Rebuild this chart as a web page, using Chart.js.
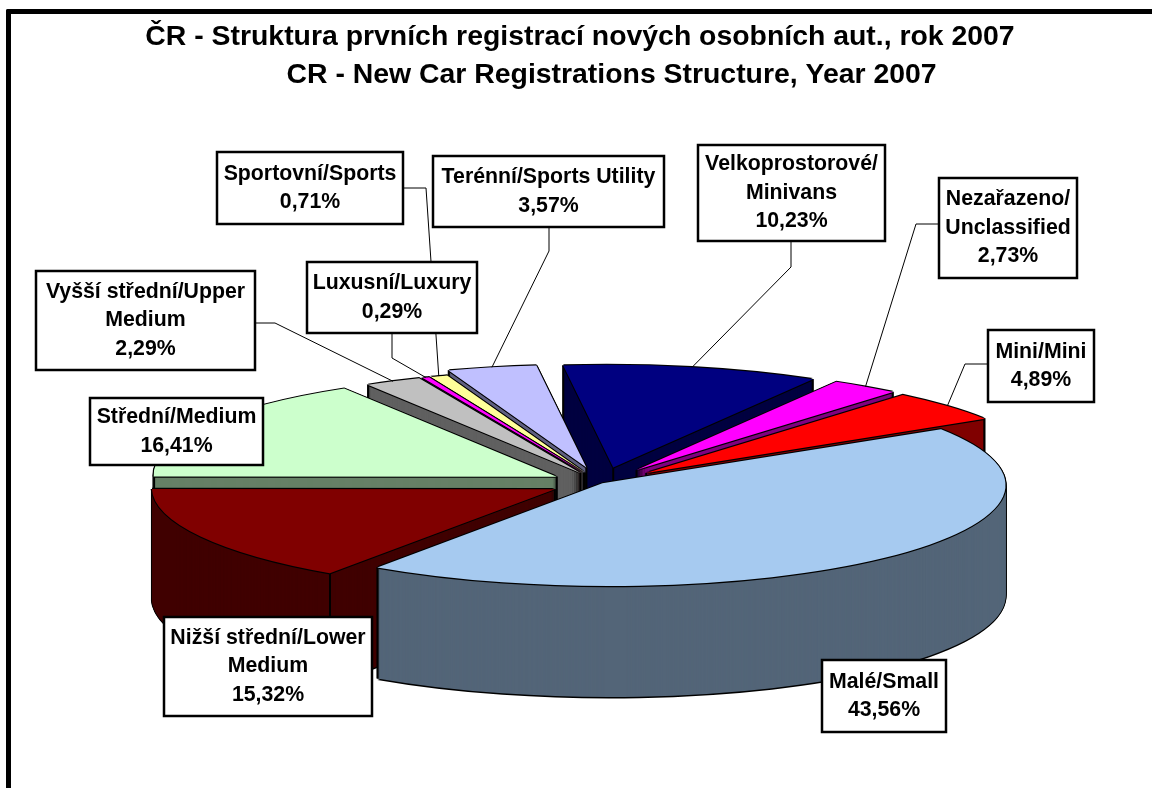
<!DOCTYPE html>
<html>
<head>
<meta charset="utf-8">
<title>ČR - Struktura prvních registrací</title>
<script src="https://cdn.jsdelivr.net/npm/chart.js@4"></script>
<style>
  html, body { margin: 0; padding: 0; background: #fff; overflow: hidden; }
  #frame { position: absolute; left: 6px; top: 9px; right: 0; bottom: 0; border-left: 5px solid #000; border-top: 5px solid #000; border-top-left-radius: 2px; }
  #chart { position: absolute; left: 0; top: 0; }
</style>
</head>
<body>
<div id="frame"></div>
<canvas id="chart" width="1152" height="788"></canvas>
<script>
// data, clockwise from 12 o'clock
const categories = [
  'Velkoprostorové/\nMinivans',
  'Nezařazeno/\nUnclassified',
  'Mini/Mini',
  'Malé/Small',
  'Nižší střední/Lower\nMedium',
  'Střední/Medium',
  'Vyšší střední/Upper\nMedium',
  'Luxusní/Luxury',
  'Sportovní/Sports',
  'Terénní/Sports Utility'
];
const shares = [10.23, 2.73, 4.89, 43.56, 15.32, 16.41, 2.29, 0.29, 0.71, 3.57];
const titleLines = [
  'ČR - Struktura prvních registrací nových osobních aut., rok 2007',
  '        CR - New Car Registrations Structure, Year 2007'
];

// styling per slice
const topColors = ['#000080', '#FF00FF', '#FF0000', '#A6CAF0', '#800000', '#CCFFCC', '#C0C0C0', '#FF00FF', '#FFFF99', '#C0C0FF'];
const wallColors = ['#000040', '#800080', '#800000', '#536578', '#400000', '#668066', '#606060', '#800080', '#808040', '#606080'];
const explode = [0.155, 0.155, 0.15, 0.005, 0.13, 0.125, 0.11, 0.11, 0.11, 0.155];
const drawOrder = [0, 9, 8, 7, 6, 1, 5, 2, 4, 3];

// label boxes: x, y, w, h and the elbow of the leader line
const boxes = [
  { x: 698, y: 145, w: 187, h: 96, leader: [[791, 241], [791, 267]] },
  { x: 939, y: 178, w: 138, h: 100, leader: [[939, 224], [916, 224]] },
  { x: 988, y: 330, w: 106, h: 72, leader: [[988, 364], [965, 364]] },
  { x: 822, y: 660, w: 124, h: 72 },
  { x: 164, y: 617, w: 208, h: 99 },
  { x: 90, y: 398, w: 173, h: 67 },
  { x: 36, y: 271, w: 219, h: 99, leader: [[255, 323], [275, 323]] },
  { x: 307, y: 262, w: 170, h: 71, leader: [[392, 333], [392, 358]] },
  { x: 217, y: 152, w: 186, h: 72, leader: [[403, 188], [426, 188]] },
  { x: 433, y: 156, w: 231, h: 71, leader: [[549, 227], [549, 251]] }
];

// view of the pie: centre, the two screen axes of the disc, wall height
const view = { cx: 601, cy: 483, ax: 400, ay: -11, bx: -50, by: -102, depth: 111 };

const percentText = function (v) {
  return v.toFixed(2).replace('.', ',') + '%';
};

// screen offset of a unit vector in the plane of the pie (canvas angle a)
const onDisc = function (a, rho) {
  const u = Math.cos(a) * rho, w = Math.sin(a) * rho;
  return { x: u * view.ax - w * view.bx, y: u * view.ay - w * view.by };
};

const apexOf = function (arc, i) {
  const shift = onDisc((arc.startAngle + arc.endAngle) / 2, explode[i]);
  return { x: view.cx + shift.x, y: view.cy + shift.y };
};

// is a screen offset from the apex inside the top face of the slice?
const insideTop = function (arc, dx, dy) {
  const det = view.ax * -view.by + view.bx * view.ay;
  const u = (dx * -view.by + view.bx * dy) / det;
  const w = (view.ax * dy - view.ay * dx) / det;
  if (Math.hypot(u, w) > 1) return false;
  const turn = Math.PI * 2;
  const a = ((Math.atan2(w, u) - arc.startAngle) % turn + turn) % turn;
  return a < arc.endAngle - arc.startAngle;
};

const drawFace = function (ctx, arc, i, color, dx, dy) {
  const r = arc.outerRadius;
  const apex = apexOf(arc, i);
  ctx.save();
  ctx.translate(apex.x + dx, apex.y + dy);
  ctx.transform(view.ax / r, view.ay / r, -view.bx / r, -view.by / r, 0, 0);
  ctx.translate(-arc.x, -arc.y);
  arc.options.backgroundColor = color;
  arc.draw(ctx);
  ctx.restore();
};

const drawSlice = function (ctx, arc, i) {
  const d = view.depth;
  // wall: the same slice stacked downwards
  for (let h = d; h >= 0; h--) {
    drawFace(ctx, arc, i, '#000', -1, h);
    drawFace(ctx, arc, i, '#000', 1, h);
  }
  drawFace(ctx, arc, i, '#000', 0, d + 1.5);
  for (let h = d; h > 0; h--) {
    drawFace(ctx, arc, i, wallColors[i], 0, h);
  }
  // wall corners, only those not behind the slice itself
  const apex = apexOf(arc, i);
  const corners = [{ x: 0, y: 0 }, onDisc(arc.startAngle, 0.999), onDisc(arc.endAngle, 0.999)];
  ctx.save();
  ctx.strokeStyle = '#000';
  ctx.lineWidth = 2;
  for (const c of corners) {
    if (insideTop(arc, c.x, c.y + 3)) continue;
    ctx.beginPath();
    ctx.moveTo(apex.x + c.x, apex.y + c.y);
    ctx.lineTo(apex.x + c.x, apex.y + c.y + d);
    ctx.stroke();
  }
  ctx.restore();
  // top face with a black rim
  for (const [dx, dy] of [[-1.2, 0], [1.2, 0], [0, -1.2], [0, 1.2]]) {
    drawFace(ctx, arc, i, '#000', dx, dy);
  }
  drawFace(ctx, arc, i, topColors[i], 0, 0);
};

const drawLabels = function (chart, arcs) {
  const ctx = chart.ctx;
  ctx.save();
  // leaders first, the boxes sit on top of them
  ctx.strokeStyle = '#000';
  ctx.lineWidth = 1;
  boxes.forEach(function (b, i) {
    if (!b.leader) return;
    const arc = arcs[i];
    const apex = apexOf(arc, i);
    const rim = onDisc((arc.startAngle + arc.endAngle) / 2, 1);
    ctx.beginPath();
    ctx.moveTo(b.leader[0][0], b.leader[0][1]);
    ctx.lineTo(b.leader[1][0], b.leader[1][1]);
    ctx.lineTo(apex.x + rim.x, apex.y + rim.y);
    ctx.stroke();
  });
  ctx.font = 'bold 21.3px "Liberation Sans", Arial, sans-serif';
  ctx.textAlign = 'center';
  ctx.textBaseline = 'middle';
  boxes.forEach(function (b, i) {
    ctx.fillStyle = '#fff';
    ctx.strokeStyle = '#000';
    ctx.lineWidth = 2.5;
    ctx.fillRect(b.x, b.y, b.w, b.h);
    ctx.strokeRect(b.x, b.y, b.w, b.h);
    const lines = categories[i].split('\n').concat(percentText(shares[i]));
    const step = 28.5;
    const y0 = b.y + b.h / 2 - (lines.length - 1) * step / 2;
    ctx.fillStyle = '#000';
    lines.forEach(function (t, n) {
      ctx.fillText(t, b.x + b.w / 2, y0 + n * step);
    });
  });
  ctx.restore();
};

const pie3d = {
  id: 'pie3d',
  beforeDatasetsDraw(chart) {
    const ctx = chart.ctx;
    const arcs = chart.getDatasetMeta(0).data;
    for (const i of drawOrder) {
      drawSlice(ctx, arcs[i], i);
    }
    drawLabels(chart, arcs);
    return false;
  }
};

const chart = new Chart(document.getElementById('chart').getContext('2d'), {
  type: 'pie',
  data: {
    labels: categories,
    datasets: [{
      data: shares,
      backgroundColor: topColors,
      borderWidth: 0
    }]
  },
  options: {
    responsive: false,
    animation: false,
    layout: { padding: { left: 8, top: 18, right: 0, bottom: 20 } },
    plugins: {
      legend: { display: false },
      tooltip: { enabled: false },
      title: {
        display: true,
        text: titleLines,
        color: '#000',
        font: { family: '"Liberation Sans", Arial, sans-serif', size: 28.4, weight: 'bold', lineHeight: 1.338 },
        padding: { top: 0, bottom: 10 }
      }
    }
  },
  plugins: [pie3d]
});
</script>
</body>
</html>
